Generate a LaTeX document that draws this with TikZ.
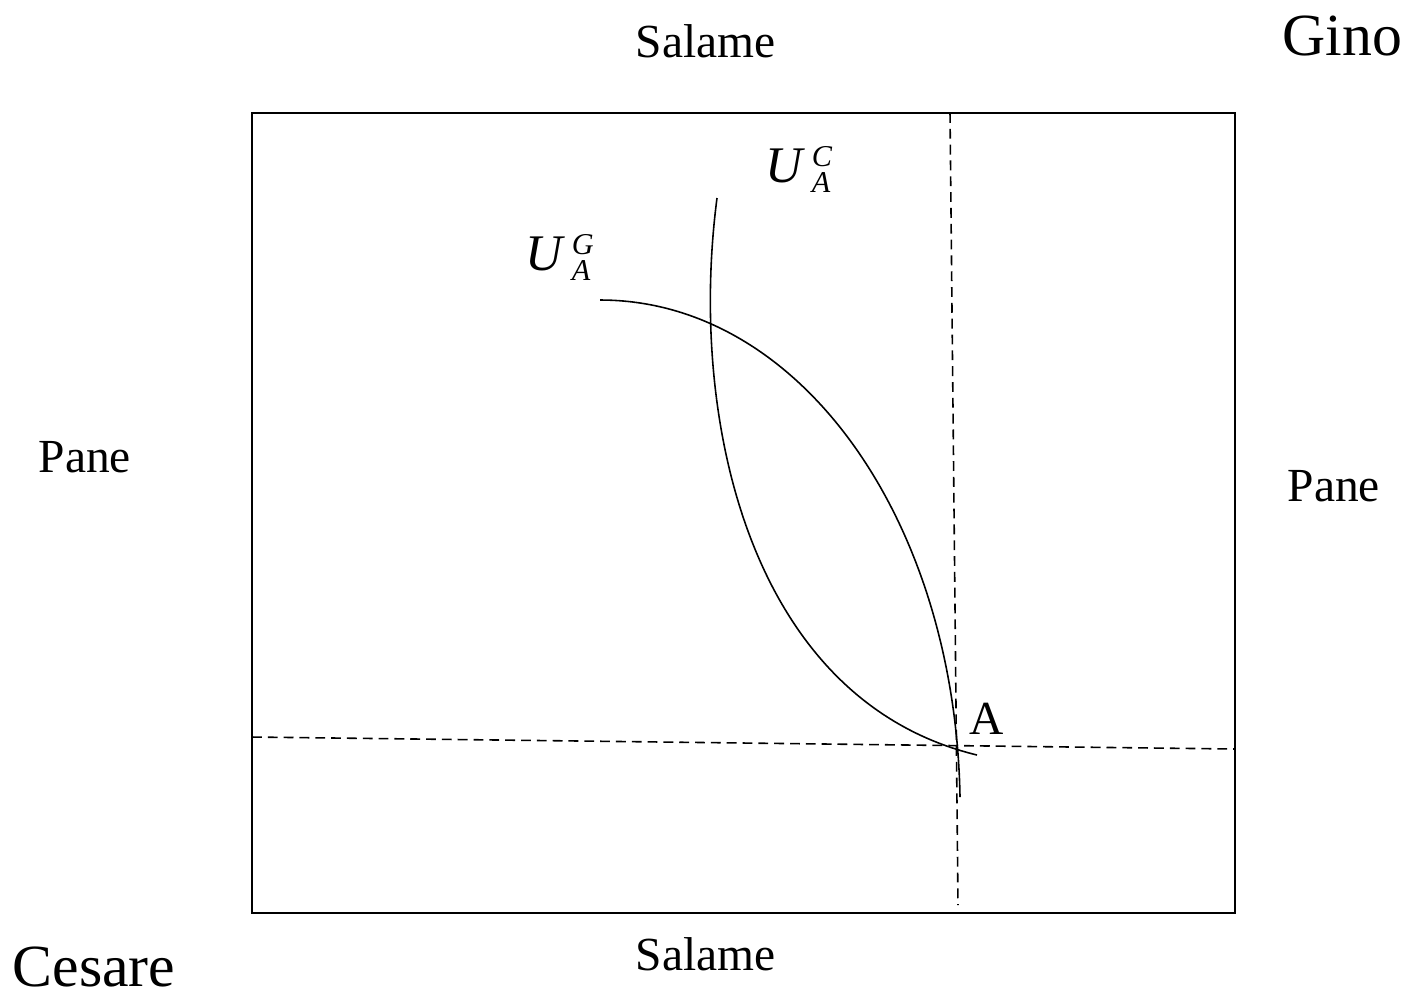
\documentclass[tikz,border=0pt]{standalone}
\usepackage{fontspec}
\setmainfont{Liberation Serif}
\usetikzlibrary{positioning,calc}
\newcommand{\scriptlab}[1]{{\fontsize{8.6}{9}\selectfont\textit{#1}}}
\newcommand{\ulab}[1]{\textit{U}\hspace{1.8pt}%
  \rlap{\raisebox{4.3pt}{\scriptlab{#1}}}\raisebox{-3.1pt}{\scriptlab{A}}}
\tikzset{
  axislabel/.style={font=\fontsize{13.5}{16}\selectfont,inner sep=0pt,anchor=base west},
  ownerlabel/.style={font=\fontsize{17}{20}\selectfont,inner sep=0pt,anchor=base west},
  curvelabel/.style={font=\fontsize{14.6}{17}\selectfont,inner sep=0pt,anchor=base west},
  boxline/.style={line width=0.6pt},
  indiff/.style={line width=0.45pt},
  guide/.style={line width=0.45pt,dash pattern=on 2.8pt off 1.7pt}
}

\begin{document}
\begin{tikzpicture}[x=0.01cm,y=-0.01cm]
    \path[use as bounding box] (0,0) rectangle (1416,993);

    % the box
    \coordinate (nw) at (252,113);
    \coordinate (se) at (1235,913);
    \draw[boxline] (nw) rectangle (se);

    % owners and goods
    \node[ownerlabel] (gino) at (1282,55) {Gino};
    \node[ownerlabel] (cesare) at (12,986) {Cesare};
    \node[axislabel] (saltop) at (635,57) {Salame};
    \node[axislabel] (salbot) at (635,970) {Salame};
    \node[axislabel] (paneleft) at (38,472) {Pane};
    \node[axislabel] (paneright) at (1287,501) {Pane};

    % dashed guides through A
    \coordinate (vtop) at (950,113);
    \coordinate (vbot) at (958,905);
    \coordinate (hleft) at (252,737);
    \coordinate (hright) at (1235,749);
    \draw[guide] (vtop) -- (vbot);
    \draw[guide] (hleft) -- (hright);

    % indifference curves
    \coordinate (gstart) at (600,300);
    \coordinate (gend) at (960,797);
    \draw[indiff] (gstart) .. controls (800,300) and (955,520) .. (gend);
    \coordinate (cstart) at (717,198);
    \coordinate (cend) at (977,755);
    \draw[indiff] (cstart) .. controls (688,420) and (750,700) .. (cend);

    \node[curvelabel] (ug) at (525,270) {\ulab{G}};
    \node[curvelabel] (uc) at (765,182) {\ulab{C}};
    \node[axislabel] (pointA) at (969,734) {A};
  \end{tikzpicture}
\end{document}
